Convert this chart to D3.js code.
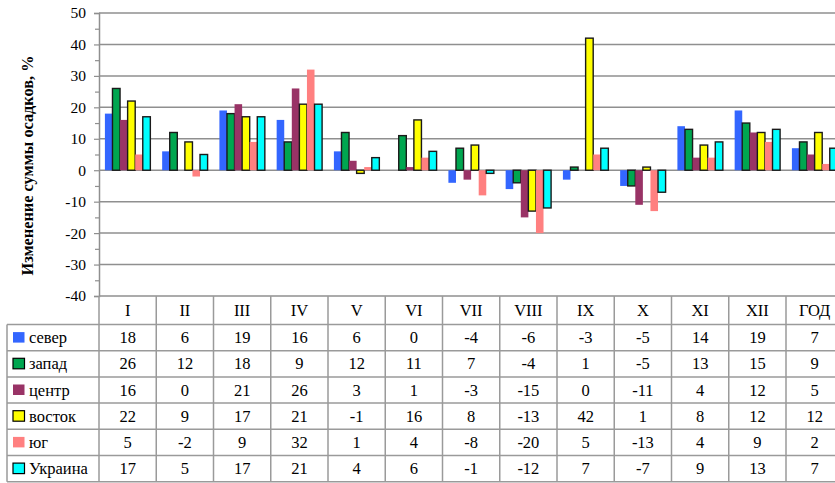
<!DOCTYPE html>
<html>
<head>
<meta charset="utf-8">
<script src="https://cdn.jsdelivr.net/npm/d3@7"></script>
<style>
  html, body { margin: 0; padding: 0; background: #fff; overflow: hidden; }
  svg { display: block; }
  svg text { font-family: "Liberation Serif", "Times New Roman", serif; }
</style>
</head>
<body>
<svg id="chart" width="835" height="483"></svg>
<script>
// Months (Roman numerals) plus the annual total
const categories = ["I", "II", "III", "IV", "V", "VI", "VII", "VIII", "IX", "X", "XI", "XII", "ГОД"];

// Change in precipitation totals, % — one array per region
const sever   = [18, 6, 19, 16, 6, 0, -4, -6, -3, -5, 14, 19, 7];
const zapad   = [26, 12, 18, 9, 12, 11, 7, -4, 1, -5, 13, 15, 9];
const centr   = [16, 0, 21, 26, 3, 1, -3, -15, 0, -11, 4, 12, 5];
const vostok  = [22, 9, 17, 21, -1, 16, 8, -13, 42, 1, 8, 12, 12];
const yug     = [5, -2, 9, 32, 1, 4, -8, -20, 5, -13, 4, 9, 2];
const ukraina = [17, 5, 17, 21, 4, 6, -1, -12, 7, -7, 9, 13, 7];

const seriesNames = ["север", "запад", "центр", "восток", "юг", "Украина"];
const seriesValues = [sever, zapad, centr, vostok, yug, ukraina];

const yTicks = [-40, -30, -20, -10, 0, 10, 20, 30, 40, 50];
const yMinorTicks = [-35, -25, -15, -5, 5, 15, 25, 35, 45];
const yTitle = "Изменение суммы осадков, %";

// Styling per series
const fills = ["#3366ff", "#00a650", "#993366", "#ffff00", "#ff8080", "#00ffff"];
const outlined = [false, true, false, true, false, true];

const svg = d3.select("#chart");

const plotLeft = 99, plotTop = 13, plotBottom = 296;
const catW = 57.25;
const gridColor = "#8f8f8f";

const x = d3.scaleBand()
  .domain(categories)
  .range([plotLeft, plotLeft + catW * categories.length])
  .paddingInner(0).paddingOuter(0);

const xs = d3.scaleBand()
  .domain(seriesNames)
  .range([0, x.bandwidth()])
  .paddingInner(0)
  .paddingOuter(0.78);

const y = d3.scaleLinear().domain([-40, 50]).range([plotBottom, plotTop]);

// Horizontal gridlines
svg.append("g")
  .selectAll("line")
  .data(yTicks)
  .join("line")
  .attr("x1", plotLeft).attr("x2", 835)
  .attr("y1", d => y(d)).attr("y2", d => y(d))
  .attr("stroke", gridColor).attr("stroke-width", 1.5);

// Y axis with labels (plain hyphen for negatives)
const yAxis = svg.append("g")
  .attr("transform", `translate(${plotLeft},0)`)
  .call(d3.axisLeft(y).tickValues(yTicks).tickSize(5).tickPadding(8).tickFormat(d => String(d)));
yAxis.attr("font-family", null).attr("font-size", null);
yAxis.select(".domain").attr("stroke", gridColor).attr("stroke-width", 1.5);
yAxis.selectAll(".tick line").attr("stroke", gridColor).attr("stroke-width", 1.2);
yAxis.selectAll(".tick text")
  .attr("font-size", 15.5).attr("fill", "#000");

// Minor ticks
const yMinor = svg.append("g")
  .attr("transform", `translate(${plotLeft},0)`)
  .call(d3.axisLeft(y).tickValues(yMinorTicks).tickSize(4).tickFormat(""));
yMinor.select(".domain").remove();
yMinor.selectAll(".tick line").attr("stroke", gridColor).attr("stroke-width", 1.2);

// Y axis title
svg.append("text")
  .attr("transform", `translate(33,${(plotTop + plotBottom) / 2 + 11}) rotate(-90)`)
  .attr("text-anchor", "middle")
  .attr("font-weight", "bold")
  .attr("font-size", 16.3)
  .text(yTitle);

// Bars
const barsG = svg.append("g");
seriesValues.forEach((vals, si) => {
  barsG.append("g")
    .selectAll("rect")
    .data(vals.map((v, i) => ({ cat: categories[i], v })))
    .join("rect")
    .attr("x", d => x(d.cat) + xs(seriesNames[si]))
    .attr("width", xs.bandwidth())
    .attr("y", d => y(Math.max(0, d.v)))
    .attr("height", d => Math.abs(y(d.v) - y(0)))
    .attr("fill", fills[si])
    .attr("stroke", outlined[si] ? "#1a1a1a" : "none")
    .attr("stroke-width", outlined[si] ? 1.4 : 0);
});

// Data table beneath the plot
const tableLeft = 7;
const headerBottom = 324.5;
const rowH = 26.2;
const tableBottom = headerBottom + rowH * seriesNames.length;
const tableG = svg.append("g");
const tColor = "#9a9a9a";

// Row separators
d3.range(seriesNames.length + 1).forEach(r => {
  tableG.append("line")
    .attr("x1", tableLeft).attr("x2", 835)
    .attr("y1", headerBottom + r * rowH).attr("y2", headerBottom + r * rowH)
    .attr("stroke", tColor).attr("stroke-width", 1.5);
});
// Left border
tableG.append("line")
  .attr("x1", tableLeft).attr("x2", tableLeft)
  .attr("y1", headerBottom).attr("y2", tableBottom)
  .attr("stroke", tColor).attr("stroke-width", 1.5);
// Column separators
categories.forEach(c => {
  tableG.append("line")
    .attr("x1", x(c)).attr("x2", x(c))
    .attr("y1", plotBottom).attr("y2", tableBottom)
    .attr("stroke", tColor).attr("stroke-width", 1.5);
});

// Category header
tableG.selectAll("text.cat")
  .data(categories)
  .join("text")
  .attr("class", "cat")
  .attr("x", d => x(d) + x.bandwidth() / 2)
  .attr("y", (plotBottom + headerBottom) / 2 + 5.5)
  .attr("text-anchor", "middle")
  .attr("font-size", 16.5)
  .text(d => d);

// Rows: legend key + values
seriesNames.forEach((name, si) => {
  const cy = headerBottom + rowH * si + rowH / 2;
  tableG.append("rect")
    .attr("x", 13).attr("y", cy - 5.5)
    .attr("width", 11.5).attr("height", 10.5)
    .attr("fill", fills[si])
    .attr("stroke", outlined[si] ? "#000" : "none")
    .attr("stroke-width", outlined[si] ? 1.2 : 0);
  tableG.append("text")
    .attr("x", 29).attr("y", cy + 5.5)
    .attr("font-size", 16.5)
    .text(name);
  tableG.selectAll(null)
    .data(seriesValues[si].map((v, i) => ({ cat: categories[i], v })))
    .join("text")
    .attr("x", d => x(d.cat) + x.bandwidth() / 2)
    .attr("y", cy + 5.5)
    .attr("text-anchor", "middle")
    .attr("font-size", 16.5)
    .text(d => d.v);
});
</script>
</body>
</html>
